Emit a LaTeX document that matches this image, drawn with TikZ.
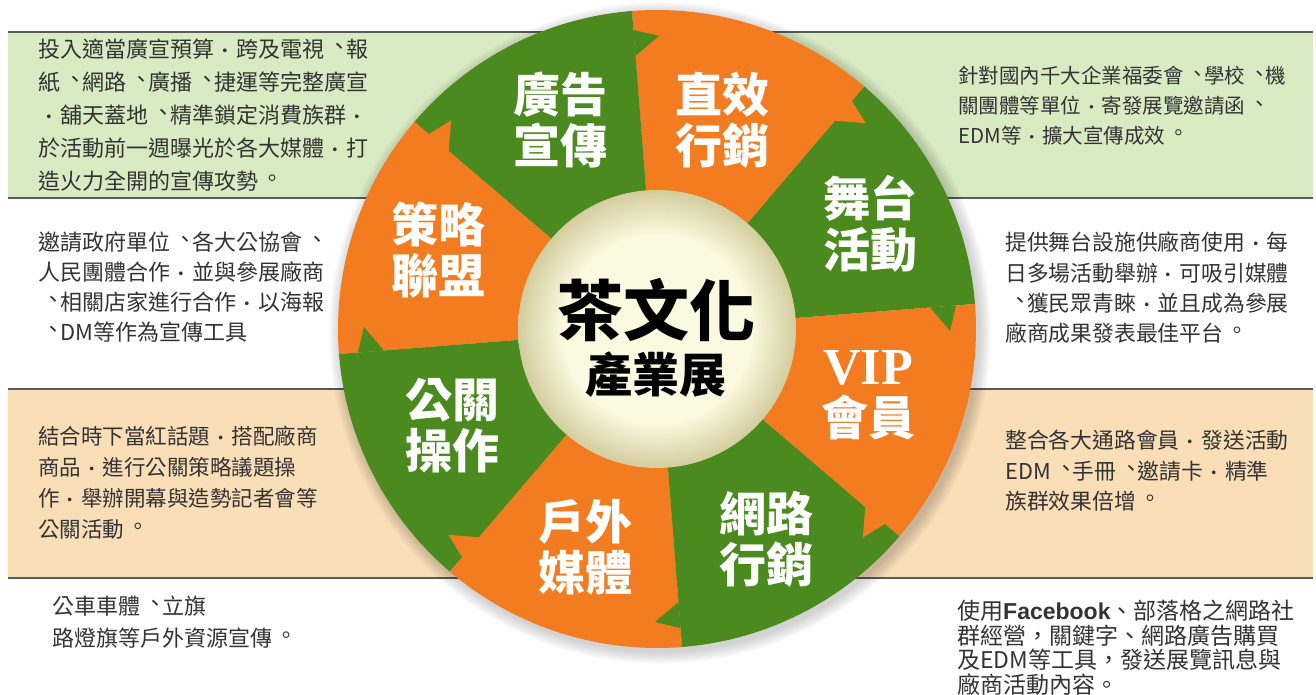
\documentclass[tikz,border=0pt]{standalone}
\usepackage{fontspec}
\usetikzlibrary{calc}
\newfontfamily\cjk{Noto Sans CJK TC}
\newfontfamily\latsans{Liberation Sans}
\newfontfamily\latserif{Liberation Serif}
% centred Taiwan-style punctuation
\newcommand\twc{\makebox[1em][c]{\scalebox{.8}{·}}}
\newcommand\twd{\makebox[1em][l]{\hspace{.2em}\raisebox{.12em}{\makebox[.8em][l]{、}}}}
\newcommand\tws{\makebox[1em][l]{\hspace{.15em}\raisebox{.14em}{\makebox[.85em][l]{。}}}}
\definecolor{wgreen}{HTML}{4B8A1F}
\definecolor{worange}{HTML}{F47C20}
\definecolor{bandgreen}{HTML}{D9EBC3}
\definecolor{bandorange}{HTML}{F9DEB8}
\definecolor{bandline}{HTML}{5A5A5A}
\definecolor{txtgray}{HTML}{333333}
\definecolor{cream}{HTML}{FBF9DF}
\definecolor{rimcol}{HTML}{D3CD9E}
\pgfdeclareradialshading{innerrim}{\pgfpoint{0bp}{0bp}}{color(0bp)=(cream);color(17bp)=(cream);color(25bp)=(rimcol);color(50bp)=(rimcol)}
\begin{document}
\begin{tikzpicture}[x=1pt,y=1pt,line join=round,
  desc/.style={anchor=west,align=left,inner sep=0pt,text=txtgray},
  wlabel/.style={text=white,align=center,inner sep=0pt,font=\cjk\bfseries\fontsize{47}{51}\selectfont},
  bandrule/.style={draw=bandline,line width=2pt}]
\useasboundingbox (0,0) rectangle (1316,695);
\coordinate (C) at (657,366);
% bands behind the wheel
\fill[bandgreen] (8,663) rectangle (1313,497);
\fill[bandorange] (8,306) rectangle (1313,117);
\foreach \y in {663,497,306,117}
  \draw[bandrule] (8,\y)--(1313,\y);
\foreach \i in {1,...,8}
  \fill[black,opacity=0.025] ($(C)+(3,-4)$) circle[radius=318+1.6*\i];
\foreach \a/\c in {4.5/wgreen,49.5/worange,94.5/wgreen,139.5/worange,184.5/wgreen,229.5/worange,274.5/wgreen,319.5/worange}
  \fill[\c] (C) -- ++(\a:319) arc[start angle=\a,end angle=\a+45,radius=319] -- cycle;
\foreach \a/\c in {4.5/wgreen,49.5/worange,94.5/wgreen,139.5/worange,184.5/wgreen,229.5/worange,274.5/wgreen,319.5/worange}
  \fill[\c] ($(C)+(\a:274)$) -- ($(C)+(\a:292)+(\a-90:25)$) -- ($(C)+(\a:300)$) -- cycle;
\shade[shading=innerrim] (C) circle[radius=139];
\node[font=\cjk\bfseries\fontsize{66}{70}\selectfont,inner sep=0pt] (tea) at (656,385) {茶文化};
\node[font=\cjk\bfseries\fontsize{47}{50}\selectfont,inner sep=0pt] (expo) at (656,320) {產業展};
\node[wlabel] (ad) at (560,575) {廣告\\宣傳};
\node[wlabel] (direct) at (722,575) {直效\\行銷};
\node[wlabel] (stage) at (870,471) {舞台\\活動};
\node[wlabel] (vip) at (868,300) {{\latserif\fontsize{52}{51}\selectfont VIP}\\會員};
\node[wlabel] (web) at (766,156) {網路\\行銷};
\node[wlabel] (outdoor) at (585,148) {戶外\\媒體};
\node[wlabel] (pr) at (452,269) {公關\\操作};
\node[wlabel] (ally) at (438,445) {策略\\聯盟};
\node[desc,font=\cjk\fontsize{22}{33}\selectfont] (adtext) at (38,580) {投入適當廣宣預算\twc 跨及電視\twd 報\\紙\twd 網路\twd 廣播\twd 捷運等完整廣宣\\\twc 舖天蓋地\twd 精準鎖定消費族群\twc\\於活動前一週曝光於各大媒體\twc 打\\造火力全開的宣傳攻勢\tws};
\node[desc,font=\cjk\fontsize{22}{30}\selectfont] (allytext) at (38,408) {邀請政府單位\twd 各大公協會\twd\\人民團體合作\twc 並與參展廠商\\\twd 相關店家進行合作\twc 以海報\\\twd DM等作為宣傳工具};
\node[desc,font=\cjk\fontsize{21.5}{31}\selectfont] (prtext) at (38,212) {結合時下當紅話題\twc 搭配廠商\\商品\twc 進行公關策略議題操\\作\twc 舉辦開幕與造勢記者會等\\公關活動\tws};
\node[desc,font=\cjk\fontsize{22}{32}\selectfont] (outdoortext) at (52,73) {公車車體\twd 立旗\\路燈旗等戶外資源宣傳\tws};
\node[desc,font=\cjk\fontsize{20.5}{30}\selectfont] (directtext) at (958,589) {針對國內千大企業福委會\twd 學校\twd 機\\關團體等單位\twc 寄發展覽邀請函\twd\\EDM等\twc 擴大宣傳成效\tws};
\node[desc,font=\cjk\fontsize{21.8}{30.3}\selectfont] (stagetext) at (1005,407) {提供舞台設施供廠商使用\twc 每\\日多場活動舉辦\twc 可吸引媒體\\\twd 獲民眾青睞\twc 並且成為參展\\廠商成果發表最佳平台\tws};
\node[desc,font=\cjk\fontsize{21.8}{30.5}\selectfont] (viptext) at (1005,224) {整合各大通路會員\twc 發送活動\\EDM\twd 手冊\twd 邀請卡\twc 精準\\族群效果倍增\tws};
\node[desc,font=\cjk\fontsize{23}{24.5}\selectfont] (webtext) at (957,47) {使用{\latsans\bfseries Facebook}、部落格之網路社\\群經營，關鍵字、網路廣告購買\\及EDM等工具，發送展覽訊息與\\廠商活動內容。};
\end{tikzpicture}
\end{document}
